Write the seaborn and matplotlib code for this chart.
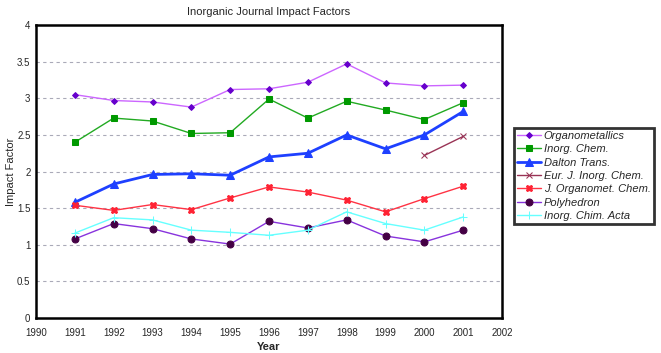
import numpy as np
import pandas as pd
import seaborn as sns
import matplotlib.pyplot as plt

years = [1991, 1992, 1993, 1994, 1995, 1996, 1997, 1998, 1999, 2000, 2001]

organometallics = [3.05, 2.97, 2.95, 2.88, 3.12, 3.13, 3.22, 3.47, 3.21, 3.17, 3.18]
inorg_chem = [2.40, 2.73, 2.69, 2.52, 2.53, 2.99, 2.73, 2.96, 2.84, 2.71, 2.94]
dalton = [1.58, 1.83, 1.96, 1.97, 1.95, 2.20, 2.25, 2.50, 2.31, 2.50, 2.82]
eur_j = [np.nan] * 9 + [2.22, 2.48]
j_organomet = [1.54, 1.47, 1.55, 1.48, 1.64, 1.79, 1.72, 1.61, 1.45, 1.63, 1.80]
polyhedron = [1.08, 1.29, 1.22, 1.08, 1.01, 1.32, 1.23, 1.34, 1.12, 1.04, 1.20]
inorg_chim_acta = [1.16, 1.37, 1.34, 1.20, 1.17, 1.13, 1.20, 1.45, 1.29, 1.20, 1.38]

names = ["Organometallics", "Inorg. Chem.", "Dalton Trans.", "Eur. J. Inorg. Chem.",
         "J. Organomet. Chem.", "Polyhedron", "Inorg. Chim. Acta"]
series = [organometallics, inorg_chem, dalton, eur_j, j_organomet, polyhedron, inorg_chim_acta]

# line colour, marker, marker colour, line width, marker size
styles = [
    ("#CC66FF", "D", "#6600CC", 1.0, 3),
    ("#22AA22", "s", "#009900", 1.0, 5),
    ("#1E40FF", "^", "#1E40FF", 2.0, 6),
    ("#993355", "x", "#993355", 1.0, 5),
    ("#FF3344", "X", "#FF2233", 1.0, 5),
    ("#8833DD", "o", "#440044", 1.0, 5),
    ("#66FFFF", "+", "#66FFFF", 1.0, 6),
]

df = pd.DataFrame({"Year": years})
for n, s in zip(names, series):
    df[n] = s

sns.set_style("white")
plt.rcParams['font.family'] = ['Liberation Sans', 'DejaVu Sans']

fig = plt.figure(figsize=(6.61, 3.53), dpi=100)
ax = fig.add_axes([0.0545, 0.099, 0.705, 0.83])

for n, (lc, mk, mc, lw, ms) in zip(names, styles):
    sns.lineplot(data=df, x="Year", y=n, ax=ax, color=lc, linewidth=lw,
                 marker=mk, markersize=ms, markerfacecolor=mc, markeredgecolor=mc,
                 label=n)

ax.set_xlim(1990, 2002)
ax.set_ylim(0, 4)
ax.set_xticks(range(1990, 2003))
ax.set_yticks(np.arange(0, 4.01, 0.5))
ax.set_yticklabels(["0", "0.5", "1", "1.5", "2", "2.5", "3", "3.5", "4"])
ax.tick_params(axis="x", labelsize=7, length=0, pad=7)
ax.tick_params(axis="y", labelsize=7, length=0, pad=4)
for y in np.arange(0.5, 4.0, 0.5):
    ax.axhline(y, color="#AAAAB8", linestyle=(0, (3, 3)), linewidth=0.8, zorder=0)
for sp in ax.spines.values():
    sp.set_color("black")
    sp.set_linewidth(1.8)

ax.set_xlabel("Year", fontsize=8, fontweight="bold", labelpad=3)
ax.set_ylabel("Impact Factor", fontsize=8, labelpad=1)
ax.set_title("Inorganic Journal Impact Factors", fontsize=8, pad=7)

leg = ax.legend(loc="center left", bbox_to_anchor=(1.013, 0.485),
                prop={"style": "italic", "size": 8}, frameon=True, fancybox=False,
                borderpad=0.3, labelspacing=0.3, handlelength=2.2, handletextpad=0.2)
leg.get_frame().set_edgecolor("black")
leg.get_frame().set_linewidth(2)

fig.savefig("out.png", dpi=100)
